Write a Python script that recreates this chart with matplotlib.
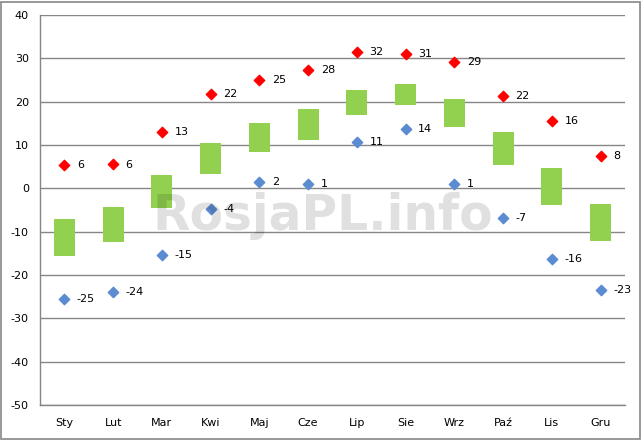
import numpy as np
import matplotlib.pyplot as plt
from matplotlib.patches import Rectangle

# data
months = ['Sty', 'Lut', 'Mar', 'Kwi', 'Maj', 'Cze', 'Lip', 'Sie', 'Wrz', 'Paź', 'Lis', 'Gru']
rec_max = [5.3, 5.5, 13.1, 21.7, 25.1, 27.2, 31.4, 30.9, 29.1, 21.4, 15.5, 7.4]
rec_max_lbl = ['6', '6', '13', '22', '25', '28', '32', '31', '29', '22', '16', '8']
rec_min = [-25.6, -24.0, -15.5, -4.7, 1.4, 0.9, 10.8, 13.6, 0.9, -6.9, -16.4, -23.5]
rec_min_lbl = ['-25', '-24', '-15', '-4', '2', '1', '11', '14', '1', '-7', '-16', '-23']
avg_low = [-15.6, -12.3, -4.5, 3.4, 8.4, 11.2, 17.0, 19.3, 14.2, 5.4, -3.8, -12.1]
avg_high = [-7.1, -4.2, 3.1, 10.5, 15.1, 18.3, 22.7, 24.1, 20.6, 13.0, 4.7, -3.6]

plt.rcParams['font.family'] = 'DejaVu Sans'
plt.rcParams['axes.unicode_minus'] = False
fig = plt.figure(figsize=(6.42, 4.40), dpi=100)
ax = fig.add_axes([40/642, 35/440, 585/642, 390/440])

x = np.arange(len(months))
lo = np.array(avg_low)
hi = np.array(avg_high)

# green bars for the average range
ax.bar(x, hi - lo, bottom=lo, width=0.43, color='#92d050', zorder=2)

# record high / low points
ax.scatter(x, rec_max, marker='D', s=28, color='#ff0000', edgecolors='#ff0000', zorder=3)
ax.scatter(x, rec_min, marker='D', s=28, color='#5b8bd0', edgecolors='#5b8bd0', zorder=3)

for i in range(len(months)):
    ax.annotate(rec_max_lbl[i], (x[i], rec_max[i]), xytext=(9, 0), textcoords='offset points',
                va='center', fontsize=8, zorder=4)
    ax.annotate(rec_min_lbl[i], (x[i], rec_min[i]), xytext=(9, 0), textcoords='offset points',
                va='center', fontsize=8, zorder=4)

ax.set_xlim(-0.5, 11.5)
ax.set_ylim(-50, 40)
ax.set_yticks(range(-50, 41, 10))
ax.set_xticks(x)
ax.set_xticklabels(months)
ax.tick_params(axis='both', length=0, labelsize=8)
ax.tick_params(axis='x', pad=9)
ax.tick_params(axis='y', pad=8)
ax.grid(axis='y', color='#868686', linewidth=1, zorder=1)
ax.set_axisbelow(True)
for s in ['top', 'right']:
    ax.spines[s].set_visible(False)
for s in ['left', 'bottom']:
    ax.spines[s].set_color('#868686')
    ax.spines[s].set_linewidth(1)

# watermark
ax.text(5.3, -6.3, 'RosjaPL.info', fontsize=35, fontweight='bold', color='black', alpha=0.12,
        ha='center', va='center', zorder=5)

# outer frame
fig.patches.append(Rectangle((1/642, 1/440), 639/642, 437/440, transform=fig.transFigure,
                             fill=False, edgecolor='#868686', linewidth=1.2))

fig.savefig('out.png', dpi=100)
